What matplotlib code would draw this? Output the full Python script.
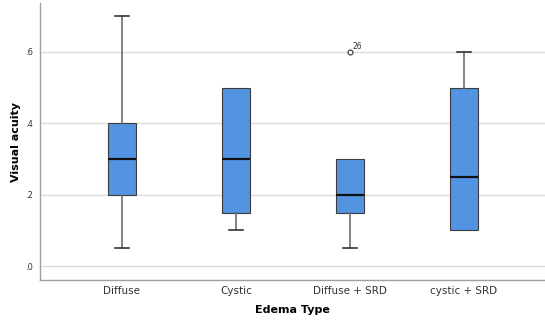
import matplotlib.pyplot as plt

groups = ['Diffuse', 'Cystic', 'Diffuse + SRD', 'cystic + SRD']
whislo = [0.05, 0.10, 0.05, 0.10]
q1 = [0.20, 0.15, 0.15, 0.10]
med = [0.30, 0.30, 0.20, 0.25]
q3 = [0.40, 0.50, 0.30, 0.50]
whishi = [0.70, 0.50, 0.30, 0.60]
outliers = [[], [], [0.60], []]
outlier_ids = [[], [], ['26'], []]

yticks = [0.0, 0.2, 0.4, 0.6]
ytick_labels = ['.0', '.2', '.4', '.6']

stats = []
for i, g in enumerate(groups):
    stats.append({'label': g, 'whislo': whislo[i], 'q1': q1[i], 'med': med[i],
                  'q3': q3[i], 'whishi': whishi[i], 'fliers': outliers[i]})

fig = plt.figure(figsize=(5.45, 3.22), dpi=100)
ax = fig.add_axes([0.0734, 0.1304, 0.9266, 0.8603])

positions = [1, 2, 3, 4]
bp = ax.bxp(stats, positions=positions, widths=0.245, patch_artist=True, showfliers=True,
            boxprops=dict(facecolor='#5294e2', edgecolor='#3d3d3d', linewidth=0.8),
            medianprops=dict(color='#111111', linewidth=1.6),
            whiskerprops=dict(color='#6e6e6e', linewidth=1.2),
            capprops=dict(color='#333333', linewidth=1.2),
            capwidths=0.125,
            flierprops=dict(marker='o', markersize=3.5, markerfacecolor='white',
                            markeredgecolor='#444444', markeredgewidth=0.9),
            zorder=3)

# no cap where the whisker has zero length (SPSS style)
for i in range(len(groups)):
    if whislo[i] == q1[i]:
        bp['caps'][2 * i].set_visible(False)
    if whishi[i] == q3[i]:
        bp['caps'][2 * i + 1].set_visible(False)

for i, vals in enumerate(outliers):
    for v, lab in zip(vals, outlier_ids[i]):
        ax.annotate(lab, (positions[i], v), xytext=(2, 2), textcoords='offset points',
                    fontsize=5.5, color='#333333')

ax.set_xlim(0.281, 4.71)
ax.set_ylim(-0.039, 0.737)
ax.set_yticks(yticks)
ax.set_yticklabels(ytick_labels, fontsize=6, color='#333333')
ax.set_xticks(positions)
ax.set_xticklabels(groups, fontsize=7.5, color='#333333')
ax.tick_params(axis='y', length=0, pad=5)
ax.tick_params(axis='x', length=0, pad=4)
ax.grid(axis='y', color='#dcdcdc', linewidth=1.0, zorder=0)
ax.set_axisbelow(True)

for s in ['top', 'right']:
    ax.spines[s].set_visible(False)
for s in ['left', 'bottom']:
    ax.spines[s].set_color('#a0a0a0')
    ax.spines[s].set_linewidth(1.0)

ax.set_xlabel('Edema Type', fontsize=8, fontweight='bold', labelpad=7)
ax.set_ylabel('Visual acuity', fontsize=8, fontweight='bold', labelpad=3)

fig.savefig('out.png', dpi=100)
